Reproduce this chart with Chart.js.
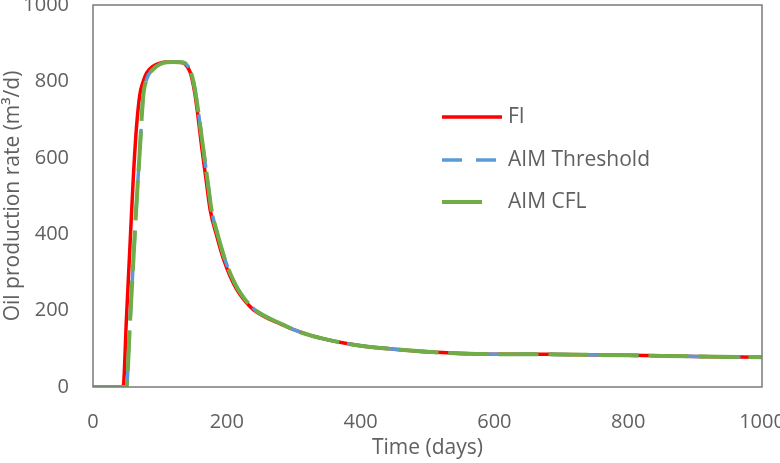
<!DOCTYPE html>
<html><head><meta charset="utf-8">
<script src="https://cdn.jsdelivr.net/npm/chart.js@4.4.0/dist/chart.umd.min.js"></script>
<style>html,body{margin:0;padding:0;background:#fff;} #wrap{width:780px;height:463px;position:relative}</style>
</head><body><div id="wrap"><canvas id="c" width="780" height="463"></canvas></div>
<script>
// ---- data ----
const fiDays = [0, 45, 50, 55, 60, 65, 70, 75, 80, 90, 100, 110, 120, 130, 137, 145, 150, 155, 163, 170, 175, 185, 195, 205, 215, 225, 240, 260, 280, 300, 325, 350, 375, 400, 450, 500, 550, 600, 650, 700, 800, 900, 1000];
const fiRate = [0, 0, 180, 360, 540, 680, 765, 800, 822, 840, 848, 851, 851, 850, 846, 825, 790, 735, 621, 530, 465, 395, 335, 290, 255, 230, 202, 181, 165, 150, 135, 124, 115, 108, 99, 92, 88, 86, 86, 85, 83, 80, 78];
const aimDays = [0, 50, 55, 60, 65, 70, 75, 80, 90, 100, 110, 120, 130, 137, 145, 150, 155, 165, 172, 177, 187, 197, 207, 217, 227, 242, 262, 282, 300, 325, 350, 375, 400, 450, 500, 550, 600, 650, 700, 800, 900, 1000];
const aimThresholdRate = [0, 0, 160, 320, 480, 620, 760, 805, 832, 845, 850, 851, 850, 848, 830, 800, 750, 621, 530, 465, 395, 335, 290, 255, 230, 202, 181, 165, 150, 135, 124, 115, 108, 99, 92, 88, 86, 86, 85, 83, 80, 78];
const aimCflRate = [0, 0, 160, 320, 480, 620, 760, 805, 832, 845, 850, 851, 850, 848, 830, 800, 750, 621, 530, 465, 395, 335, 290, 255, 230, 202, 181, 165, 150, 135, 124, 115, 108, 99, 92, 88, 86, 86, 85, 83, 80, 78];
const seriesNames = ['FI', 'AIM Threshold', 'AIM CFL'];
const xTicks = [0, 200, 400, 600, 800, 1000];
const yTicks = [0, 200, 400, 600, 800, 1000];

const toPts = (xs, ys) => xs.map((x, i) => ({x: x, y: ys[i]}));
const FONT = "'Open Sans', Lato, sans-serif";
const TEXT = '#606060';

const styles = {
  'FI': {color: '#ff0000', width: 3.5, dash: [], legendLen: 60},
  'AIM Threshold': {color: '#5b9bd5', width: 3.5, dash: [20, 14], legendLen: 56},
  'AIM CFL': {color: '#70ad47', width: 4, dash: [40, 10], legendLen: 40}
};

// first dataset drawn on top -> green, blue, red
const datasets = [
  {label: seriesNames[2], data: toPts(aimDays, aimCflRate)},
  {label: seriesNames[1], data: toPts(aimDays, aimThresholdRate)},
  {label: seriesNames[0], data: toPts(fiDays, fiRate)}
].map(d => {
  const s = styles[d.label];
  return Object.assign(d, {
    borderColor: s.color, backgroundColor: s.color, borderWidth: s.width,
    borderDash: s.dash, pointRadius: 0, fill: false,
    cubicInterpolationMode: 'monotone', borderCapStyle: 'butt'
  });
});

const framePlugin = {
  id: 'frameLegend',
  afterDraw(chart) {
    const {ctx, chartArea: a} = chart;
    ctx.save();
    ctx.strokeStyle = '#7a7a7a';
    ctx.lineWidth = 1.5;
    ctx.strokeRect(a.left, a.top, a.right - a.left, a.bottom - a.top);
    // legend
    const x0 = a.left + 349, ys = [a.top + 112, a.top + 155, a.top + 197];
    ctx.font = '21px ' + FONT;
    ctx.textBaseline = 'middle';
    ctx.textAlign = 'left';
    seriesNames.forEach((n, i) => {
      const s = styles[n];
      ctx.strokeStyle = s.color;
      ctx.lineWidth = s.width;
      ctx.setLineDash(s.dash);
      ctx.beginPath();
      ctx.moveTo(x0, ys[i]);
      ctx.lineTo(x0 + s.legendLen, ys[i]);
      ctx.stroke();
      ctx.setLineDash([]);
      ctx.fillStyle = TEXT;
      ctx.fillText(n, x0 + 66, ys[i]);
    });
    ctx.restore();
  }
};

new Chart(document.getElementById('c'), {
  type: 'line',
  data: {datasets: datasets},
  plugins: [framePlugin],
  options: {
    responsive: false, animation: false, devicePixelRatio: 1,
    layout: {padding: {left: 0, right: 18, top: 5, bottom: 0}},
    plugins: {legend: {display: false}, tooltip: {enabled: false}},
    scales: {
      x: {
        type: 'linear', min: 0, max: 1000,
        afterBuildTicks: s => { s.ticks = xTicks.map(v => ({value: v})); },
        afterFit: s => { s.height = 76; s.paddingLeft = 0; s.paddingRight = 0; },
        grid: {display: false, drawTicks: false}, border: {display: false},
        ticks: {color: TEXT, font: {family: FONT, size: 20}, padding: 23, maxRotation: 0, callback: v => String(v)},
        title: {display: true, text: 'Time (days)', color: TEXT, font: {family: FONT, size: 21}, padding: {top: 0, bottom: 2}}
      },
      y: {
        type: 'linear', min: 0, max: 1000,
        afterBuildTicks: s => { s.ticks = yTicks.map(v => ({value: v})); },
        afterFit: s => { s.width = 93; s.paddingTop = 0; s.paddingBottom = 0; },
        grid: {display: false, drawTicks: false}, border: {display: false},
        ticks: {color: TEXT, font: {family: FONT, size: 20}, padding: 24, callback: v => String(v)},
        title: {display: true, text: 'Oil production rate (m³/d)', color: TEXT, font: {family: FONT, size: 21}, padding: {top: 0, bottom: 0}}
      }
    }
  }
});
</script></body></html>
